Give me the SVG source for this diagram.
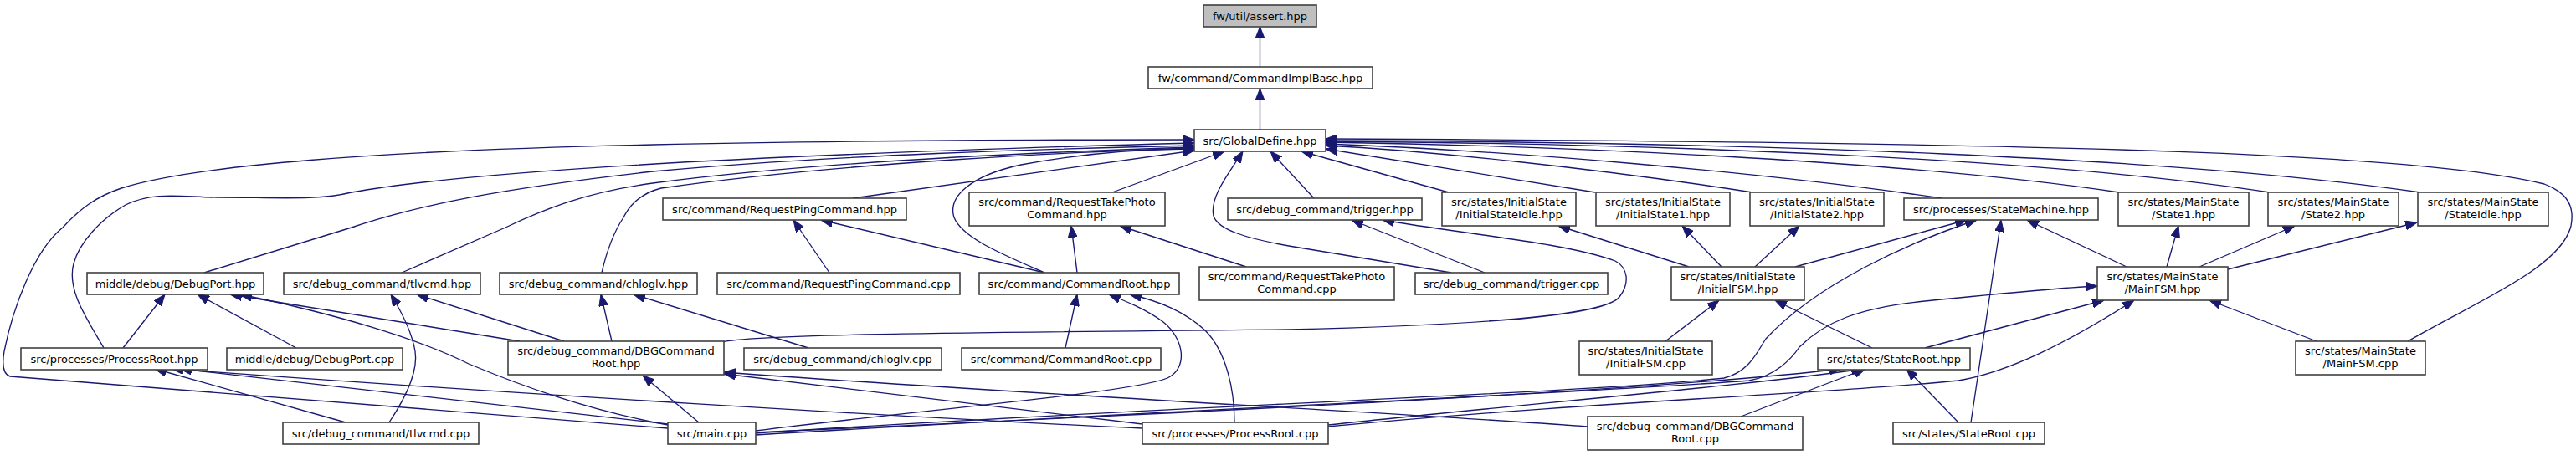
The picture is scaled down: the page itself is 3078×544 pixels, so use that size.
<svg xmlns="http://www.w3.org/2000/svg" width="3078" height="544" viewBox="0 0 3078 544">
<defs>
<marker id="ah" viewBox="0 0 14 11" refX="14" refY="5.5" markerWidth="14" markerHeight="11" markerUnits="userSpaceOnUse" orient="auto">
<path d="M0,0 L14,5.5 L0,11 z" fill="#191970" stroke="#191970" stroke-width="1"/>
</marker>
<style>
.n rect{fill:#fff;stroke:#404040;stroke-width:1.6}
.n.root rect{fill:#bfbfbf}
.n text{font-family:"DejaVu Sans","Liberation Sans",sans-serif;font-size:13px;text-anchor:middle;fill:#000}
.e path{fill:none;stroke:#191970;stroke-width:1.33;marker-end:url(#ah)}
</style>
</defs>
<rect width="3078" height="544" fill="#fff"/>
<g class="e" id="edges">
<path d="M1505.5,80 L1505.5,32"/>
<path d="M1505.5,155 L1505.5,106"/>
<path d="M798,512 L12,450 C2,447 3,432 5,420 C15,370 40,300 75,272 C95,250 115,235 145,225 C230,198 450,180 780,173 C1000,168 1300,167 1427,167"/>
<path d="M124,416 C100,375 80,345 88,315 C95,290 120,262 150,245 C185,228 220,236 260,236 C330,236 380,240 420,230 C560,205 900,185 1427,171"/>
<path d="M244,326 L420,272 C500,245 600,225 780,205 C1000,185 1250,178 1427,174"/>
<path d="M480,326 L604,272 C650,250 700,230 780,219 C1000,190 1300,180 1427,176"/>
<path d="M719,326 C725,300 735,275 745,260 C755,240 770,230 790,225 C1000,195 1300,180 1427,178"/>
<path d="M1019,237 L1427,180"/>
<path d="M1248,326 C1200,305 1150,285 1140,260 C1132,235 1160,210 1220,197 C1300,182 1380,178 1427,177"/>
<path d="M1329,230 L1463,181"/>
<path d="M1734,326 L1540,294 C1490,285 1455,275 1450,258 C1445,235 1470,205 1485,181"/>
<path d="M1570,237 L1518,181"/>
<path d="M1731,230 L1555,181"/>
<path d="M1906,230 L1584,178"/>
<path d="M2094,230 C1900,200 1700,180 1584,174"/>
<path d="M2320,237 C2100,205 1800,180 1584,172"/>
<path d="M2532,230 C2300,195 1900,175 1584,170"/>
<path d="M2712,230 C2450,190 2000,172 1584,169"/>
<path d="M2892,230 C2600,188 2100,170 1584,168"/>
<path d="M2877,408 C2960,360 3060,320 3072,270 C3078,240 3060,228 3040,220 C2900,185 2500,170 1584,166"/>
<path d="M1248,326 L981,263"/>
<path d="M991,326 L948,263"/>
<path d="M1287,326 L1280,270"/>
<path d="M1489,319 L1338,270"/>
<path d="M1774,326 L1615,263"/>
<path d="M862,409 C900,400 1100,398 1540,394 C1800,388 1920,375 1935,355 C1948,338 1945,320 1930,312 C1870,290 1750,280 1652,263"/>
<path d="M2018,319 L1862,270"/>
<path d="M2057,319 L2010,270"/>
<path d="M2097,319 L2150,270"/>
<path d="M2145,319 L2350,263"/>
<path d="M2541,319 L2422,263"/>
<path d="M2589,319 L2603,270"/>
<path d="M2628,319 L2742,270"/>
<path d="M2662,322 L2888,266"/>
<path d="M2355,505 L2391,263"/>
<path d="M903,518 C1300,490 1900,470 2060,452 C2090,445 2100,420 2110,405 C2170,340 2280,290 2362,263"/>
<path d="M147,416 L197,352"/>
<path d="M354,416 L236,352"/>
<path d="M621,408 L275,352"/>
<path d="M798,508 C700,490 620,460 560,435 C500,405 400,375 287,352"/>
<path d="M465,505 C485,475 500,445 496,420 C492,395 478,370 467,352"/>
<path d="M674,408 L498,352"/>
<path d="M731,408 L718,352"/>
<path d="M966,416 L757,352"/>
<path d="M1273,416 L1287,352"/>
<path d="M903,515 C1100,490 1350,470 1395,452 C1420,440 1415,405 1390,385 C1370,370 1345,360 1325,352"/>
<path d="M1475,505 C1475,465 1465,420 1440,395 C1415,372 1385,360 1350,352"/>
<path d="M1990,408 L2054,359"/>
<path d="M2237,416 L2121,359"/>
<path d="M2300,416 L2514,359"/>
<path d="M2768,408 L2640,359"/>
<path d="M903,520 C1400,490 1900,470 2090,455 C2120,450 2140,430 2150,415 C2180,385 2220,368 2300,360 C2400,350 2460,344 2506,342"/>
<path d="M1587,510 C1900,480 2200,470 2340,455 C2400,445 2470,410 2550,359"/>
<path d="M413,505 L185,441"/>
<path d="M1365,512 C1100,500 600,470 205,441"/>
<path d="M798,507 L215,441"/>
<path d="M835,505 L768,449"/>
<path d="M1365,507 L865,447"/>
<path d="M1897,510 C1700,495 1200,470 865,445"/>
<path d="M903,517 C1500,490 2000,465 2200,441"/>
<path d="M1587,508 C1800,485 2100,460 2226,441"/>
<path d="M2080,498 L2229,441"/>
<path d="M2340,505 L2278,441"/>
</g>
<g class="n root" id="n_assert"><rect x="1438" y="6" width="135" height="26"/><text x="1505.5" y="23.5">fw/util/assert.hpp</text></g>
<g class="n" id="n_cmdimpl"><rect x="1372" y="80" width="268" height="26"/><text x="1506" y="97.5">fw/command/CommandImplBase.hpp</text></g>
<g class="n" id="n_global"><rect x="1427" y="155" width="157" height="26"/><text x="1505.5" y="172.5">src/GlobalDefine.hpp</text></g>
<g class="n" id="n_reqping_h"><rect x="792" y="237" width="291" height="26"/><text x="937.5" y="254.5">src/command/RequestPingCommand.hpp</text></g>
<g class="n" id="n_reqphoto_h"><rect x="1158" y="230" width="234" height="40"/><text x="1275" y="246">src/command/RequestTakePhoto</text><text x="1275" y="261">Command.hpp</text></g>
<g class="n" id="n_trigger_h"><rect x="1467" y="237" width="232" height="26"/><text x="1583" y="254.5">src/debug_command/trigger.hpp</text></g>
<g class="n" id="n_isidle"><rect x="1723" y="230" width="160" height="40"/><text x="1803" y="246">src/states/InitialState</text><text x="1803" y="261">/InitialStateIdle.hpp</text></g>
<g class="n" id="n_is1"><rect x="1907" y="230" width="160" height="40"/><text x="1987" y="246">src/states/InitialState</text><text x="1987" y="261">/InitialState1.hpp</text></g>
<g class="n" id="n_is2"><rect x="2091" y="230" width="160" height="40"/><text x="2171" y="246">src/states/InitialState</text><text x="2171" y="261">/InitialState2.hpp</text></g>
<g class="n" id="n_statemachine"><rect x="2275" y="237" width="232" height="26"/><text x="2391" y="254.5">src/processes/StateMachine.hpp</text></g>
<g class="n" id="n_ms1"><rect x="2531" y="230" width="156" height="40"/><text x="2609" y="246">src/states/MainState</text><text x="2609" y="261">/State1.hpp</text></g>
<g class="n" id="n_ms2"><rect x="2710" y="230" width="156" height="40"/><text x="2788" y="246">src/states/MainState</text><text x="2788" y="261">/State2.hpp</text></g>
<g class="n" id="n_msidle"><rect x="2889" y="230" width="156" height="40"/><text x="2967" y="246">src/states/MainState</text><text x="2967" y="261">/StateIdle.hpp</text></g>
<g class="n" id="n_debugport_h"><rect x="104" y="326" width="211" height="26"/><text x="209.5" y="343.5">middle/debug/DebugPort.hpp</text></g>
<g class="n" id="n_tlvcmd_h"><rect x="339" y="326" width="235" height="26"/><text x="456.5" y="343.5">src/debug_command/tlvcmd.hpp</text></g>
<g class="n" id="n_chloglv_h"><rect x="597" y="326" width="236" height="26"/><text x="715" y="343.5">src/debug_command/chloglv.hpp</text></g>
<g class="n" id="n_reqping_c"><rect x="857" y="326" width="290" height="26"/><text x="1002" y="343.5">src/command/RequestPingCommand.cpp</text></g>
<g class="n" id="n_cmdroot_h"><rect x="1170" y="326" width="239" height="26"/><text x="1289.5" y="343.5">src/command/CommandRoot.hpp</text></g>
<g class="n" id="n_reqphoto_c"><rect x="1433" y="319" width="233" height="40"/><text x="1549.5" y="335">src/command/RequestTakePhoto</text><text x="1549.5" y="350">Command.cpp</text></g>
<g class="n" id="n_trigger_c"><rect x="1691" y="326" width="230" height="26"/><text x="1806" y="343.5">src/debug_command/trigger.cpp</text></g>
<g class="n" id="n_ifsm_h"><rect x="1997" y="319" width="159" height="40"/><text x="2076.5" y="335">src/states/InitialState</text><text x="2076.5" y="350">/InitialFSM.hpp</text></g>
<g class="n" id="n_mfsm_h"><rect x="2506" y="319" width="156" height="40"/><text x="2584" y="335">src/states/MainState</text><text x="2584" y="350">/MainFSM.hpp</text></g>
<g class="n" id="n_procroot_h"><rect x="25" y="416" width="223" height="26"/><text x="136.5" y="433.5">src/processes/ProcessRoot.hpp</text></g>
<g class="n" id="n_debugport_c"><rect x="271" y="416" width="210" height="26"/><text x="376" y="433.5">middle/debug/DebugPort.cpp</text></g>
<g class="n" id="n_dbgroot_h"><rect x="607" y="408" width="258" height="40"/><text x="736" y="424">src/debug_command/DBGCommand</text><text x="736" y="439">Root.hpp</text></g>
<g class="n" id="n_chloglv_c"><rect x="889" y="416" width="236" height="26"/><text x="1007" y="433.5">src/debug_command/chloglv.cpp</text></g>
<g class="n" id="n_cmdroot_c"><rect x="1149" y="416" width="238" height="26"/><text x="1268" y="433.5">src/command/CommandRoot.cpp</text></g>
<g class="n" id="n_ifsm_c"><rect x="1887" y="408" width="159" height="40"/><text x="1966.5" y="424">src/states/InitialState</text><text x="1966.5" y="439">/InitialFSM.cpp</text></g>
<g class="n" id="n_stateroot_h"><rect x="2172" y="416" width="182" height="26"/><text x="2263" y="433.5">src/states/StateRoot.hpp</text></g>
<g class="n" id="n_mfsm_c"><rect x="2743" y="408" width="155" height="40"/><text x="2820.5" y="424">src/states/MainState</text><text x="2820.5" y="439">/MainFSM.cpp</text></g>
<g class="n" id="n_tlvcmd_c"><rect x="338" y="505" width="234" height="26"/><text x="455" y="522.5">src/debug_command/tlvcmd.cpp</text></g>
<g class="n" id="n_main"><rect x="798" y="505" width="105" height="26"/><text x="850.5" y="522.5">src/main.cpp</text></g>
<g class="n" id="n_procroot_c"><rect x="1365" y="505" width="222" height="26"/><text x="1476" y="522.5">src/processes/ProcessRoot.cpp</text></g>
<g class="n" id="n_dbgroot_c"><rect x="1897" y="498" width="257" height="40"/><text x="2025.5" y="514">src/debug_command/DBGCommand</text><text x="2025.5" y="529">Root.cpp</text></g>
<g class="n" id="n_stateroot_c"><rect x="2262" y="505" width="181" height="26"/><text x="2352.5" y="522.5">src/states/StateRoot.cpp</text></g>
</svg>
